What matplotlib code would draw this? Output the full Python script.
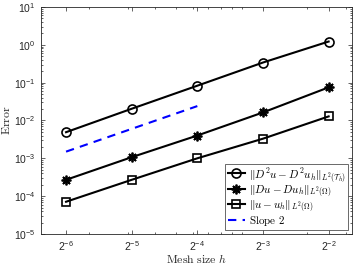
import matplotlib
matplotlib.use("Agg")
import matplotlib.pyplot as plt
import matplotlib.ticker as mticker
import numpy as np

# Data
h_exp = [-6, -5, -4, -3, -2]
h = [2.0 ** e for e in h_exp]
err_D2 = [4.9e-3, 2.04e-2, 8.3e-2, 3.4e-1, 1.22]
err_D1 = [2.7e-4, 1.07e-3, 4.0e-3, 1.63e-2, 7.5e-2]
err_L2 = [7.1e-5, 2.7e-4, 1.0e-3, 3.3e-3, 1.28e-2]
slope_h = [2.0 ** -6, 2.0 ** -4]
slope_y = [1.5e-3, 2.4e-2]
xtick_labels = [r'$\mathdefault{2^{%d}}$' % e for e in h_exp]
labels = [r'$\|D^2u-D^2u_h\|_{L^2(\mathcal{T}_h)}$',
          r'$\|Du-Du_h\|_{L^2(\Omega)}$',
          r'$\|u-u_h\|_{L^2(\Omega)}$',
          r'$\mathrm{Slope\ 2}$']

plt.rcParams['font.family'] = ['Liberation Sans', 'DejaVu Sans']
plt.rcParams['mathtext.fontset'] = 'dejavusans'

fig = plt.figure(figsize=(3.57, 2.68), dpi=100)
ax = fig.add_axes([0.115, 0.127, 0.871, 0.847])

lw = 1.5
ax.plot(h, err_D2, '-o', color='black', lw=lw, ms=6.5, mfc='none', mew=1.2, label=labels[0])
ax.plot(h, err_D1, '-', marker=(8, 2, 0), color='black', lw=lw, ms=7, mew=1.3, label=labels[1])
ax.plot(h, err_L2, '-s', color='black', lw=lw, ms=5.5, mfc='none', mew=1.2, label=labels[2])
ax.plot(slope_h, slope_y, '--', color='#0000ff', lw=lw, dashes=(4, 3), label=labels[3])

ax.set_xscale('log')
ax.set_yscale('log')
ax.set_xlim(0.012, 0.32)
ax.set_ylim(1e-5, 1e1)

ax.xaxis.set_major_locator(mticker.FixedLocator(h))
ax.xaxis.set_major_formatter(mticker.FixedFormatter(xtick_labels))
ax.xaxis.set_minor_locator(mticker.LogLocator(base=10, subs=np.arange(1, 10), numticks=20))
ax.xaxis.set_minor_formatter(mticker.NullFormatter())
ax.yaxis.set_major_locator(mticker.LogLocator(base=10, numticks=20))
ax.yaxis.set_minor_locator(mticker.LogLocator(base=10, subs=np.arange(2, 10), numticks=20))
ax.yaxis.set_minor_formatter(mticker.NullFormatter())

axcol = '#262626'
for s in ax.spines.values():
    s.set_color(axcol)
    s.set_linewidth(0.6)
ax.tick_params(which='both', direction='in', top=True, right=True, colors=axcol,
               labelsize=7.5, width=0.5)
ax.tick_params(which='major', length=3, pad=4)
ax.tick_params(which='minor', length=1.6)

xl = ax.set_xlabel(r'$\mathrm{Mesh\ size}\ h$', fontsize=8.5, color=axcol, labelpad=0)
yl = ax.set_ylabel(r'$\mathrm{Error}$', fontsize=8.5, color=axcol)
ax.yaxis.set_label_coords(-0.09, 0.5)
xl.set_math_fontfamily('cm')
yl.set_math_fontfamily('cm')

leg = ax.legend(loc='lower right', fontsize=8, frameon=True, fancybox=False,
                edgecolor=axcol, handlelength=1.6, handletextpad=0.3,
                borderpad=0.2, labelspacing=0.0, borderaxespad=0.35)
leg.get_frame().set_linewidth(0.6)
for t in leg.get_texts():
    t.set_math_fontfamily('cm')

fig.savefig('out.png', dpi=100)
